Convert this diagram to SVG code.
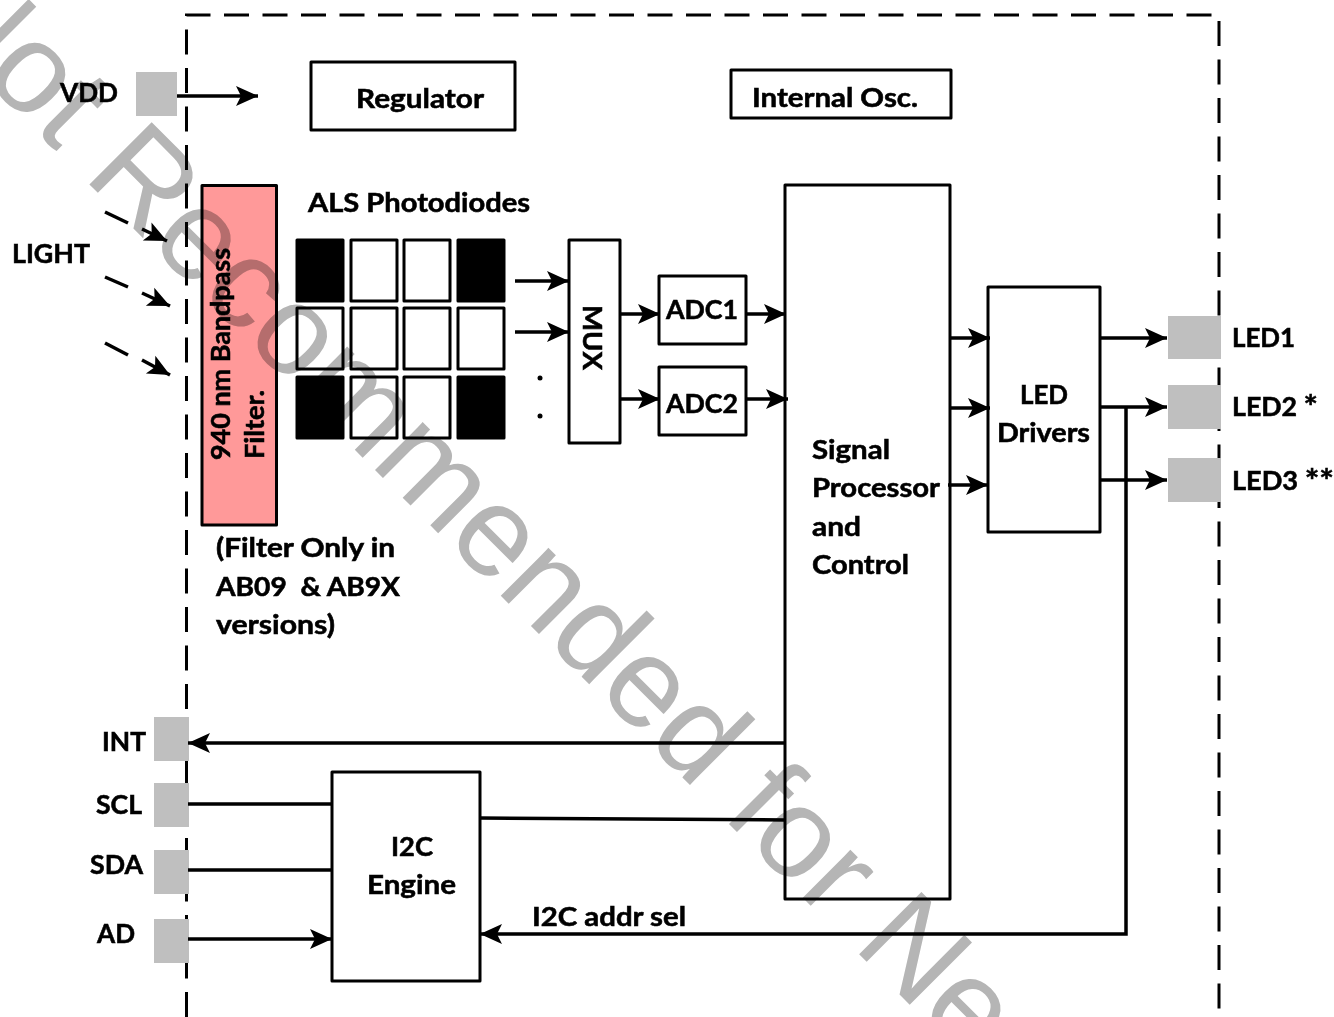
<svg xmlns="http://www.w3.org/2000/svg" width="1334" height="1017" viewBox="0 0 1334 1017">
<style>
.b{fill:#fff;stroke:#000;stroke-width:3;stroke-linejoin:round}
.k{fill:#000;stroke:#000;stroke-width:3;stroke-linejoin:round}
.p{fill:#bfbfbf}
.t{font-family:"Lato","Noto Sans","Liberation Sans",sans-serif;font-weight:700;font-size:26px;fill:#000;stroke:#000;stroke-width:.55px}
.s{font-size:33px}
.c line,.c path{fill:none;stroke:#000;stroke-width:3.500}
.a{marker-end:url(#ah)}
.wm{font-family:"Liberation Sans",Arial,sans-serif;font-size:128px;fill:#b5b5b5;mix-blend-mode:multiply}
</style>
<defs>
<marker id="ah" markerUnits="userSpaceOnUse" markerWidth="24" markerHeight="22" refX="22" refY="10" orient="auto" overflow="visible">
<path d="M0 0L22 10L0 20L5 10Z" fill="#000"/>
</marker>
</defs>
<rect width="1334" height="1017" fill="#fff"/>
<g id="boundary"><path d="M186.500 1017V15H1219V1017" fill="none" stroke="#000" stroke-width="3" stroke-dasharray="25 13.500"/></g>
<g id="vdd"><rect class="p" x="136" y="72" width="41" height="44"/><text class="t" x="60" y="102" textLength="58" lengthAdjust="spacingAndGlyphs">VDD</text></g>
<g id="regulator"><rect class="b" x="311" y="62" width="204" height="68"/><text class="t" x="356" y="108" textLength="128" lengthAdjust="spacingAndGlyphs">Regulator</text></g>
<g id="osc"><rect class="b" x="731" y="70" width="220" height="48"/><text class="t" x="752" y="107" textLength="166" lengthAdjust="spacingAndGlyphs">Internal Osc.</text></g>
<g id="light"><text class="t" x="12" y="263" textLength="78" lengthAdjust="spacingAndGlyphs">LIGHT</text></g>
<g id="filter"><rect x="202" y="185.500" width="74.500" height="339.500" fill="#f99" stroke="#000" stroke-width="3" stroke-linejoin="round"/>
<text class="t" transform="translate(230 460) rotate(-90)" textLength="212" lengthAdjust="spacingAndGlyphs">940 nm Bandpass</text>
<text class="t" transform="translate(264 459) rotate(-90)" textLength="69" lengthAdjust="spacingAndGlyphs">Filter.</text></g>
<g id="filter-note"><text class="t" x="216" y="557" textLength="179" lengthAdjust="spacingAndGlyphs">(Filter Only in</text>
<text class="t" x="216" y="596" textLength="184" lengthAdjust="spacingAndGlyphs" xml:space="preserve">AB09  &amp; AB9X</text>
<text class="t" x="216" y="634" textLength="119" lengthAdjust="spacingAndGlyphs">versions)</text></g>
<g id="photodiodes"><text class="t" x="308" y="212" textLength="222" lengthAdjust="spacingAndGlyphs">ALS Photodiodes</text>
<rect class="k" x="297" y="240" width="46" height="61"/><rect class="b" x="351" y="240" width="46" height="61"/><rect class="b" x="404" y="240" width="46" height="61"/><rect class="k" x="458" y="240" width="46" height="61"/>
<rect class="b" x="297" y="308" width="46" height="61"/><rect class="b" x="351" y="308" width="46" height="61"/><rect class="b" x="404" y="308" width="46" height="61"/><rect class="b" x="458" y="308" width="46" height="61"/>
<rect class="k" x="297" y="377" width="46" height="61"/><rect class="b" x="351" y="377" width="46" height="61"/><rect class="b" x="404" y="377" width="46" height="61"/><rect class="k" x="458" y="377" width="46" height="61"/>
<circle cx="540" cy="378" r="2.500"/><circle cx="540" cy="416" r="2.500"/></g>
<g id="mux"><rect class="b" x="569" y="240" width="51" height="203"/><text class="t" transform="translate(583 305) rotate(90)" textLength="65" lengthAdjust="spacingAndGlyphs">MUX</text></g>
<g id="adc1"><rect class="b" x="659" y="276" width="87" height="68"/><text class="t" x="666" y="319" textLength="72" lengthAdjust="spacingAndGlyphs">ADC1</text></g>
<g id="adc2"><rect class="b" x="659" y="367" width="87" height="68"/><text class="t" x="666" y="413" textLength="72" lengthAdjust="spacingAndGlyphs">ADC2</text></g>
<g id="signal-processor"><rect class="b" x="785" y="185" width="165" height="714"/>
<text class="t" x="812" y="459" textLength="78" lengthAdjust="spacingAndGlyphs">Signal</text><text class="t" x="812" y="497" textLength="128" lengthAdjust="spacingAndGlyphs">Processor</text><text class="t" x="812" y="536" textLength="49" lengthAdjust="spacingAndGlyphs">and</text><text class="t" x="812" y="574" textLength="97" lengthAdjust="spacingAndGlyphs">Control</text></g>
<g id="led-drivers"><rect class="b" x="988" y="287" width="112" height="245"/><text class="t" x="1020" y="404" textLength="48" lengthAdjust="spacingAndGlyphs">LED</text><text class="t" x="997" y="442" textLength="93" lengthAdjust="spacingAndGlyphs">Drivers</text></g>
<g id="led1"><rect class="p" x="1168" y="316" width="53" height="43"/><text class="t" x="1232" y="347" textLength="63" lengthAdjust="spacingAndGlyphs">LED1</text></g>
<g id="led2"><rect class="p" x="1168" y="385" width="53" height="44"/><text class="t" x="1232" y="416" textLength="86" lengthAdjust="spacingAndGlyphs">LED2 <tspan class="s" dy="3">*</tspan></text></g>
<g id="led3"><rect class="p" x="1168" y="458" width="53" height="44"/><text class="t" x="1232" y="490" textLength="102" lengthAdjust="spacingAndGlyphs">LED3 <tspan class="s" dy="3">**</tspan></text></g>
<g id="int"><rect class="p" x="154" y="717" width="35" height="44"/><text class="t" x="102" y="751" textLength="44" lengthAdjust="spacingAndGlyphs">INT</text></g>
<g id="scl"><rect class="p" x="154" y="783" width="35" height="44"/><text class="t" x="96" y="814" textLength="46" lengthAdjust="spacingAndGlyphs">SCL</text></g>
<g id="sda"><rect class="p" x="154" y="850" width="35" height="44"/><text class="t" x="90" y="874" textLength="53" lengthAdjust="spacingAndGlyphs">SDA</text></g>
<g id="ad"><rect class="p" x="154" y="919" width="35" height="44"/><text class="t" x="97" y="943" textLength="38" lengthAdjust="spacingAndGlyphs">AD</text></g>
<g id="i2c-engine"><rect class="b" x="332" y="772" width="148" height="209"/><text class="t" x="391" y="856" textLength="42" lengthAdjust="spacingAndGlyphs">I2C</text><text class="t" x="367" y="894" textLength="89" lengthAdjust="spacingAndGlyphs">Engine</text></g>
<g id="addr-label"><text class="t" x="532" y="926" textLength="154" lengthAdjust="spacingAndGlyphs">I2C addr sel</text></g>
<g id="connectors" class="c">
<line class="a" x1="177" y1="96" x2="258" y2="96"/>
<line x1="105" y1="212" x2="128" y2="223"/><line class="a" x1="142" y1="229" x2="167" y2="241"/>
<line x1="105" y1="277" x2="128" y2="287"/><line class="a" x1="142" y1="293" x2="170" y2="306"/>
<line x1="105" y1="343" x2="128" y2="355"/><line class="a" x1="142" y1="360" x2="170" y2="375"/>
<line class="a" x1="515" y1="281" x2="569" y2="281"/><line class="a" x1="515" y1="332" x2="569" y2="332"/>
<line class="a" x1="620" y1="314" x2="660" y2="314"/><line class="a" x1="620" y1="399" x2="660" y2="399"/>
<line class="a" x1="746" y1="314" x2="786" y2="314"/><line class="a" x1="746" y1="399" x2="788" y2="399"/>
<line class="a" x1="950" y1="338" x2="990" y2="338"/><line class="a" x1="950" y1="408" x2="990" y2="408"/><line class="a" x1="948" y1="485" x2="988" y2="485"/>
<line class="a" x1="1100" y1="338" x2="1167" y2="338"/><line class="a" x1="1100" y1="407" x2="1167" y2="407"/><line class="a" x1="1100" y1="480" x2="1167" y2="480"/>
<path class="a" d="M1126 407V934H480"/>
<line class="a" x1="786" y1="743" x2="188" y2="743"/>
<line x1="188" y1="804" x2="332" y2="804"/><line x1="188" y1="870" x2="332" y2="870"/><line class="a" x1="188" y1="939" x2="332" y2="939"/>
<line x1="480" y1="818" x2="786" y2="820"/>
</g>
<text class="wm" transform="translate(-84 11) rotate(45)">Not Recommended for Ne</text>
</svg>
